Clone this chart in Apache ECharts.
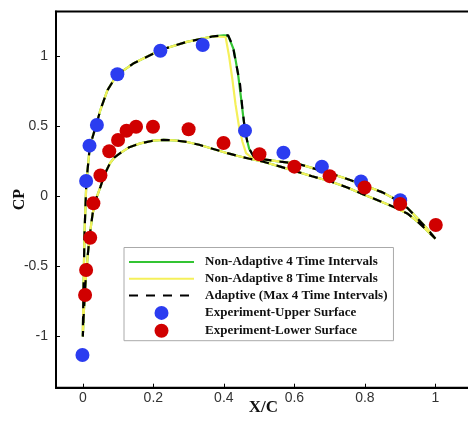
<!DOCTYPE html>
<html>
<head>
<meta charset="utf-8">
<script src="https://cdn.jsdelivr.net/npm/echarts@6/dist/echarts.min.js"></script>
<style>
  html, body { margin: 0; padding: 0; background: #fff; }
  #chart { width: 468px; height: 421px; }
</style>
</head>
<body>
<div id="chart"></div>
<script>
// Axis ticks
const xTicks = [0, 0.2, 0.4, 0.6, 0.8, 1];
const yTicks = [-1, -0.5, 0, 0.5, 1];

// Upper surface, leading edge up to the shock (common to all runs)
const upperFrontX  = [0, 0.002, 0.005, 0.01, 0.02, 0.038, 0.05, 0.07, 0.097, 0.143, 0.22, 0.295, 0.37, 0.40];
const upperFrontCp = [-1.0, -0.65, -0.25, 0.1, 0.36, 0.51, 0.62, 0.76, 0.87, 0.95, 1.047, 1.105, 1.145, 1.152];

// Shock region for each run
const shock4X   = [0.412, 0.428, 0.44, 0.448, 0.455, 0.462, 0.472, 0.485, 0.5];
const shock4Cp  = [1.15, 1.05, 0.88, 0.72, 0.57, 0.44, 0.34, 0.285, 0.27];
const shock8X   = [0.405, 0.415, 0.424, 0.433, 0.443, 0.453, 0.463, 0.478, 0.5];
const shock8Cp  = [1.14, 1.0, 0.84, 0.66, 0.5, 0.39, 0.31, 0.28, 0.27];
const shockAdX  = [0.412, 0.425, 0.437, 0.446, 0.453, 0.46, 0.47, 0.485, 0.5];
const shockAdCp = [1.152, 1.08, 0.92, 0.8, 0.62, 0.47, 0.35, 0.285, 0.27];

// Upper surface behind the shock to the trailing edge
const upperAftX  = [0.512, 0.56, 0.607, 0.65, 0.701, 0.75, 0.796, 0.85, 0.89, 0.92, 0.947, 0.975, 1.0];
const upperAftCp = [0.266, 0.25, 0.236, 0.205, 0.166, 0.126, 0.083, 0.03, -0.024, -0.08, -0.15, -0.225, -0.3];

// Lower surface, leading edge to trailing edge
const lowerX  = [0, 0.003, 0.008, 0.014, 0.02, 0.028, 0.04, 0.05, 0.062, 0.077, 0.09, 0.106, 0.13, 0.163, 0.2, 0.229, 0.26, 0.295, 0.33, 0.37, 0.41, 0.44, 0.47, 0.512, 0.56, 0.607, 0.65, 0.701, 0.75, 0.796, 0.85, 0.89, 0.92, 0.95, 0.975, 1.0];
const lowerCp = [-1.0, -0.82, -0.6, -0.42, -0.27, -0.12, 0.0, 0.07, 0.16, 0.238, 0.28, 0.31, 0.35, 0.38, 0.40, 0.405, 0.402, 0.39, 0.37, 0.34, 0.31, 0.29, 0.272, 0.249, 0.214, 0.178, 0.145, 0.11, 0.065, 0.015, -0.04, -0.084, -0.12, -0.18, -0.24, -0.3];

// Experimental data
const expUpperX  = [-0.001, 0.0094, 0.019, 0.040, 0.098, 0.220, 0.340, 0.460, 0.569, 0.678, 0.789, 0.900];
const expUpperCp = [-1.131, 0.111, 0.364, 0.511, 0.874, 1.042, 1.083, 0.471, 0.314, 0.214, 0.108, -0.026];
const expLowerX  = [0.0065, 0.0094, 0.021, 0.030, 0.050, 0.075, 0.100, 0.124, 0.151, 0.199, 0.300, 0.399, 0.501, 0.600, 0.700, 0.799, 0.900, 1.001];
const expLowerCp = [-0.703, -0.524, -0.294, -0.048, 0.151, 0.324, 0.404, 0.470, 0.499, 0.499, 0.481, 0.383, 0.302, 0.214, 0.146, 0.065, -0.053, -0.203];

const pairs = (xs, ys) => xs.map((x, i) => [x, ys[i]]);

// Closed loop: trailing edge -> upper surface -> leading edge -> lower surface -> trailing edge
function loop(shX, shCp) {
  const upper = pairs(upperFrontX, upperFrontCp)
    .concat(pairs(shX, shCp))
    .concat(pairs(upperAftX, upperAftCp));
  return upper.slice().reverse().concat(pairs(lowerX, lowerCp));
}

const chart = echarts.init(document.getElementById('chart'), null, { renderer: 'canvas' });

const lineBase = { type: 'line', symbol: 'none', showSymbol: false, smooth: false, z: 3 };
const hiddenMarker = { opacity: 0 };

chart.setOption({
  animation: false,
  backgroundColor: '#fff',
  grid: {
    left: 56, top: 11.5, bottom: 33.3, right: -2.7,
    outerBoundsMode: 'none',
    show: true, borderColor: '#000', borderWidth: 2, containLabel: false
  },
  xAxis: {
    type: 'value', min: -0.076, max: 1.1,
    name: 'X/C', nameLocation: 'middle', nameGap: 11, nameMoveOverlap: false,
    nameTextStyle: { fontFamily: 'Liberation Serif', fontWeight: 'bold', fontSize: 17, color: '#111', verticalAlign: 'top' },
    axisLine: { show: true, onZero: false, lineStyle: { color: '#000', width: 2 } },
    axisTick: { show: true, inside: true, length: 4, customValues: xTicks, lineStyle: { color: '#000' } },
    axisLabel: { customValues: xTicks, fontFamily: 'Liberation Sans', fontSize: 14, color: '#333', margin: 3 },
    splitLine: { show: false }
  },
  yAxis: {
    type: 'value', min: -1.365, max: 1.322,
    name: 'CP', nameLocation: 'middle', nameGap: 28, nameRotate: 90, nameMoveOverlap: false,
    nameTextStyle: { fontFamily: 'Liberation Serif', fontWeight: 'bold', fontSize: 16, color: '#111' },
    axisLine: { show: true, onZero: false, lineStyle: { color: '#000', width: 2 } },
    axisTick: { show: true, inside: true, length: 4, customValues: yTicks, lineStyle: { color: '#000' } },
    axisLabel: { customValues: yTicks, fontFamily: 'Liberation Sans', fontSize: 14, color: '#333', margin: 8 },
    splitLine: { show: false }
  },
  legend: {
    orient: 'vertical', left: 124, top: 247.5,
    itemWidth: 65, itemHeight: 14, itemGap: 3.8,
    padding: [8, 6, 3, 4],
    borderColor: '#aaa', borderWidth: 1, backgroundColor: '#fff',
    textStyle: { fontFamily: 'Liberation Serif', fontWeight: 'bold', fontSize: 13, color: '#111', padding: [0, 0, 0, 6] },
    data: [
      { name: 'Non-Adaptive 4 Time Intervals', itemStyle: hiddenMarker },
      { name: 'Non-Adaptive 8 Time Intervals', itemStyle: hiddenMarker },
      { name: 'Adaptive (Max 4 Time Intervals)', itemStyle: hiddenMarker },
      { name: 'Experiment-Upper Surface' },
      { name: 'Experiment-Lower Surface' }
    ]
  },
  series: [
    Object.assign({}, lineBase, {
      name: 'Non-Adaptive 4 Time Intervals',
      data: loop(shock4X, shock4Cp),
      lineStyle: { color: '#33c433', width: 2.2 },
      itemStyle: { color: '#33c433' }
    }),
    Object.assign({}, lineBase, {
      name: 'Non-Adaptive 8 Time Intervals',
      data: loop(shock8X, shock8Cp),
      lineStyle: { color: '#f5f05a', width: 2.2 },
      itemStyle: { color: '#f5f05a' }
    }),
    Object.assign({}, lineBase, {
      name: 'Adaptive (Max 4 Time Intervals)',
      data: loop(shockAdX, shockAdCp),
      lineStyle: { color: '#000', width: 2.2, type: [9, 8] },
      itemStyle: { color: '#000' }
    }),
    {
      name: 'Experiment-Upper Surface', type: 'scatter', z: 5,
      symbol: 'circle', symbolSize: 14,
      data: pairs(expUpperX, expUpperCp),
      itemStyle: { color: '#2b3cf0', opacity: 1 }
    },
    {
      name: 'Experiment-Lower Surface', type: 'scatter', z: 6,
      symbol: 'circle', symbolSize: 14,
      data: pairs(expLowerX, expLowerCp),
      itemStyle: { color: '#d00000', opacity: 1 }
    }
  ]
});
</script>
</body>
</html>
